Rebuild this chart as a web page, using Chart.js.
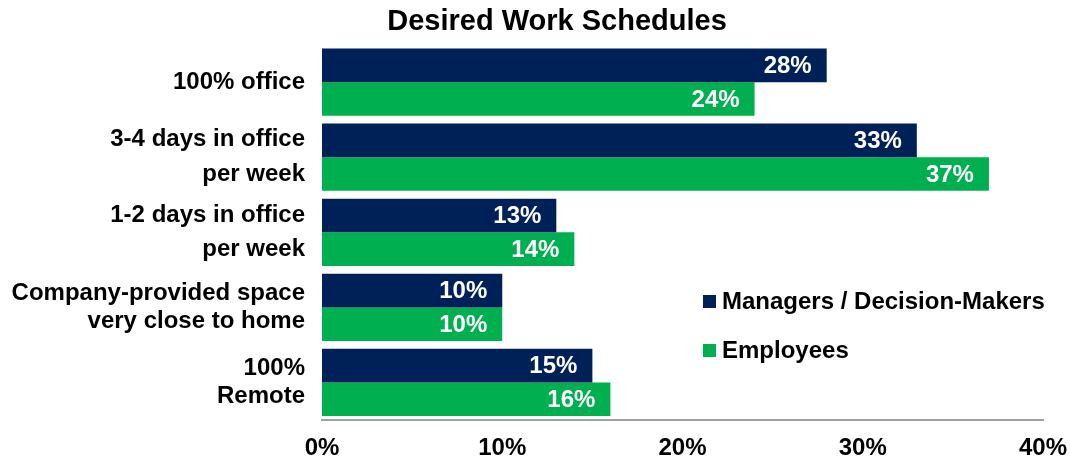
<!DOCTYPE html>
<html>
<head>
<meta charset="utf-8">
<script src="https://cdn.jsdelivr.net/npm/chart.js@4"></script>
<style>
  html, body { margin: 0; padding: 0; background: #fff; }
  #wrap { width: 1070px; height: 462px; }
</style>
</head>
<body>
<div id="wrap"><canvas id="chart"></canvas></div>
<script>
// Data
const categories = [
  ['100% office'],
  ['3-4 days in office', 'per week'],
  ['1-2 days in office', 'per week'],
  ['Company-provided space', 'very close to home'],
  ['100%', 'Remote']
];
const managers = [28, 33, 13, 10, 15];
const employees = [24, 37, 14, 10, 16];
const xTicks = [0, 10, 20, 30, 40];
const chartTitle = 'Desired Work Schedules';

const navy = '#002157';
const green = '#00B050';
const fontFamily = '"Liberation Sans", Arial, sans-serif';

// Line spacing of the wrapped category labels
const labelLineHeights = [1.2, 1.45, 1.45, 1.17, 1.15];

// Title, drawn by hand so it can sit off-centre like the original
const titlePlugin = {
  id: 'titlePlugin',
  afterDraw(chart) {
    const ctx = chart.ctx;
    ctx.save();
    ctx.font = 'bold 29px ' + fontFamily;
    ctx.fillStyle = '#000';
    ctx.textAlign = 'center';
    ctx.textBaseline = 'middle';
    ctx.fillText(chartTitle, 557, 22);
    ctx.restore();
  }
};

// Value labels inside bar ends
const barLabels = {
  id: 'barLabels',
  afterDatasetsDraw(chart) {
    const ctx = chart.ctx;
    ctx.save();
    ctx.font = 'bold 24px ' + fontFamily;
    ctx.fillStyle = '#fff';
    ctx.textAlign = 'right';
    ctx.textBaseline = 'middle';
    chart.data.datasets.forEach((ds, i) => {
      chart.getDatasetMeta(i).data.forEach((bar, j) => {
        ctx.fillText(ds.data[j] + '%', bar.x - 15, bar.y + 1);
      });
    });
    ctx.restore();
  }
};

// Legend inside plot area
const innerLegend = {
  id: 'innerLegend',
  afterDraw(chart) {
    const ctx = chart.ctx;
    const x = 703;
    const rows = [301, 350];
    ctx.save();
    ctx.font = 'bold 24px ' + fontFamily;
    ctx.textBaseline = 'middle';
    chart.data.datasets.forEach((ds, i) => {
      ctx.fillStyle = ds.backgroundColor;
      ctx.fillRect(x, rows[i] - 6, 13, 13);
      ctx.fillStyle = '#000';
      ctx.fillText(ds.label, x + 19, rows[i] + 1);
    });
    ctx.restore();
  }
};

new Chart(document.getElementById('chart'), {
  type: 'bar',
  data: {
    labels: categories,
    datasets: [
      { label: 'Managers / Decision-Makers', data: managers, backgroundColor: navy },
      { label: 'Employees', data: employees, backgroundColor: green }
    ]
  },
  options: {
    indexAxis: 'y',
    responsive: true,
    maintainAspectRatio: false,
    animation: false,
    devicePixelRatio: 1,
    layout: { padding: { left: 0, right: 27, top: 40, bottom: 0 } },
    datasets: {
      bar: { barPercentage: 1, categoryPercentage: 0.895, borderWidth: 0 }
    },
    plugins: {
      legend: { display: false },
      tooltip: { enabled: false },
      title: { display: false }
    },
    scales: {
      x: {
        min: 0,
        max: 40,
        afterBuildTicks(scale) {
          scale.ticks = xTicks.map(v => ({ value: v }));
        },
        afterFit(scale) {
          scale.paddingLeft = 0;
          scale.paddingRight = 0;
          scale.height = 42;
        },
        grid: { display: false, drawTicks: false },
        border: { display: true, color: '#a0a0a0', width: 2 },
        ticks: {
          color: '#000',
          padding: 16,
          maxRotation: 0,
          font: { family: fontFamily, size: 24, weight: 'bold', lineHeight: 1 },
          callback: v => v + '%'
        }
      },
      y: {
        grid: { display: false, drawTicks: false },
        border: { display: false },
        afterFit(scale) { scale.width = 322; },
        ticks: {
          color: '#000',
          padding: 17,
          font: ctx => ({
            family: fontFamily,
            size: 24,
            weight: 'bold',
            lineHeight: labelLineHeights[ctx.index] || 1.2
          })
        }
      }
    }
  },
  plugins: [barLabels, innerLegend, titlePlugin]
});
</script>
</body>
</html>
